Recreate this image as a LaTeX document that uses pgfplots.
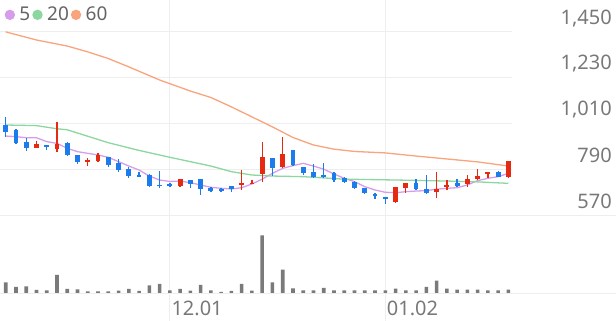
\documentclass[border=0pt]{standalone}
\usepackage{fontspec}
\setmainfont{Noto Sans}
\usepackage{pgfplots}
\usepackage{pgfplotstable}
\pgfplotsset{compat=1.18}
\definecolor{maP}{RGB}{214,158,234}
\definecolor{maG}{RGB}{140,214,160}
\definecolor{maO}{RGB}{249,164,124}
\definecolor{cRed}{RGB}{230,42,18}
\definecolor{cBlue}{RGB}{28,124,236}
\definecolor{volc}{RGB}{122,122,122}
\definecolor{gridc}{RGB}{238,238,238}
\definecolor{labc}{RGB}{120,120,120}
\definecolor{legc}{RGB}{100,100,100}

\pgfplotstableread{
i O H L C
3 893 927 890 909
5 887 1018 871 911
8 826 845 807 833
9 831 869 826 860
17 709 744 706 742
23 718 786 690 722
24 718 738 718 725
25 767 919 730 847
27 799 946 794 863
38 634 706 629 703
39 701 725 677 722
42 679 775 650 694
43 709 738 690 714
45 718 762 706 742
46 742 790 738 757
47 770 778 746 778
49 754 831 746 831
}\upc

\pgfplotstableread{
i O H L C
0 1002 1042 943 970
1 978 982 909 914
2 922 938 879 890
4 908 908 882 898
6 914 919 855 858
7 858 858 815 823
10 847 847 802 810
11 818 839 778 786
12 790 802 746 757
13 761 778 754 754
14 762 766 706 709
15 716 783 698 709
16 719 725 706 709
18 738 738 698 718
19 742 742 666 694
20 698 706 682 687
21 694 698 682 685
22 709 709 682 694
26 842 842 757 794
28 882 882 807 810
29 802 802 762 770
30 775 814 746 754
31 761 821 749 751
32 770 778 730 738
33 746 751 722 730
34 730 735 696 698
35 698 698 671 674
36 671 674 647 663
37 655 658 623 646
40 722 742 690 695
41 695 762 671 677
44 722 742 706 709
48 778 783 751 754
}\downc

\pgfplotstableread{
i v
0 107
1 60
2 67
3 30
4 27
5 180
6 40
7 37
8 17
9 17
10 17
11 23
12 40
13 20
14 75
15 90
16 27
17 40
18 23
19 80
20 27
21 10
22 20
23 90
24 23
25 577
26 107
27 233
28 47
29 27
30 27
31 50
32 27
33 27
34 27
35 27
36 27
37 27
38 43
39 27
40 27
41 60
42 123
43 43
44 33
45 33
46 33
47 27
48 27
49 33
}\volt

\begin{document}
\begin{tikzpicture}[x=1pt,y=1pt]
\useasboundingbox (0,-321) rectangle (616,0);
\begin{axis}[
  at={(0pt,-215pt)}, anchor=south west, scale only axis,
  width=512pt, height=215pt,
  xmin=-0.556, xmax=49.35, ymin=570, ymax=1602,
  axis line style={draw=none}, major tick length=0pt,
  xtick={16,37}, xticklabels={}, xmajorgrids,
  ytick={570,790,1010,1230,1450}, ymajorgrids,
  yticklabel pos=right,
  grid style={draw=gridc, line width=0.8pt},
  /pgf/number format/1000 sep={,},
  /pgf/number format/assume math mode=true,
  yticklabel style={anchor=east, inner sep=0pt, xshift=100pt, yshift=13.5pt,
     font=\fontsize{20}{24}\selectfont, text=labc},
  legend style={draw=none, fill=none, at={(0,1)}, anchor=north west,
     xshift=4.5pt, yshift=-5pt, inner sep=0pt,
     font=\fontsize{19}{19}\selectfont, text=legc,
     /tikz/every odd column/.append style={column sep=2.5pt}},
  legend columns=-1,
  legend image code/.code={\fill[#1] (2pt,0pt) circle (4.5pt);},
]
\addplot[color=maP, line width=1.3pt] coordinates {(0,949)(1,946)(2,941)(3,941)(4,922)(5,914)(6,890)(7,874)(8,866)(9,858)(10,847)(11,826)(12,805)(13,786)(14,757)(15,738)(16,731)(17,733)(18,725)(19,714)(20,703)(21,698)(22,695)(23,701)(24,719)(25,742)(26,770)(27,794)(28,807)(29,818)(30,805)(31,790)(32,767)(33,746)(34,730)(35,706)(36,690)(37,679)(38,677)(39,682)(40,685)(41,687)(42,694)(43,698)(44,701)(45,714)(46,735)(47,746)(48,754)(49,770)};
\addlegendentry{5}
\addplot[color=maG, line width=1.3pt] coordinates {(0,1002)(3,999)(5,984)(6,979)(10,917)(13,880)(16,847)(18,826)(20,805)(22,778)(24,762)(26,757)(29,754)(33,742)(38,738)(43,733)(46,729)(49,722)};
\addlegendentry{20}
\addplot[color=maO, line width=1.3pt] coordinates {(0,1449)(3,1410)(6,1381)(8,1353)(10,1321)(12,1281)(15,1218)(18,1165)(20,1134)(22,1089)(24,1041)(26,993)(28,942)(30,906)(32,886)(34,875)(37,868)(40,853)(43,839)(46,825)(49,805)};
\addlegendentry{60}
% wicks
\addplot[draw=none, mark=none, forget plot, error bars/.cd, y dir=both, y explicit, error mark=none,
  error bar style={line width=1.3pt, draw=cRed}]
  table[x=i, y expr={(\thisrow{H}+\thisrow{L})/2}, y error expr={(\thisrow{H}-\thisrow{L})/2}]{\upc};
\addplot[draw=none, mark=none, forget plot, error bars/.cd, y dir=both, y explicit, error mark=none,
  error bar style={line width=1.3pt, draw=cBlue}]
  table[x=i, y expr={(\thisrow{H}+\thisrow{L})/2}, y error expr={(\thisrow{H}-\thisrow{L})/2}]{\downc};
% bodies
\addplot[draw=none, mark=none, forget plot, error bars/.cd, y dir=both, y explicit, error mark=none,
  error bar style={line width=4.8pt, draw=cRed}]
  table[x=i, y expr={(\thisrow{O}+\thisrow{C})/2}, y error expr={max(abs(\thisrow{C}-\thisrow{O})/2,3.5)}]{\upc};
\addplot[draw=none, mark=none, forget plot, error bars/.cd, y dir=both, y explicit, error mark=none,
  error bar style={line width=4.8pt, draw=cBlue}]
  table[x=i, y expr={(\thisrow{O}+\thisrow{C})/2}, y error expr={max(abs(\thisrow{C}-\thisrow{O})/2,3.5)}]{\downc};
\end{axis}

\begin{axis}[
  at={(0pt,-321pt)}, anchor=south west, scale only axis,
  width=512pt, height=106pt,
  xmin=-0.556, xmax=49.35, ymin=-280, ymax=780,
  axis line style={draw=none}, major tick length=0pt,
  ytick=\empty,
  xtick={16,37}, xticklabels={12.01,01.02}, xmajorgrids,
  grid style={draw=gridc, line width=0.8pt},
  xticklabel style={anchor=west, inner sep=0pt, xshift=1.5pt, yshift=13pt,
     font=\fontsize{20}{24}\selectfont, text=labc},
]
\addplot[ybar, bar width=3.6pt, fill=volc, draw=none] table[x=i, y=v]{\volt};
\end{axis}
\draw[gridc, line width=0.8pt] (0,-215) -- (616,-215);
\draw[gridc, line width=0.8pt] (0,-293) -- (616,-293);
\end{tikzpicture}
\end{document}
